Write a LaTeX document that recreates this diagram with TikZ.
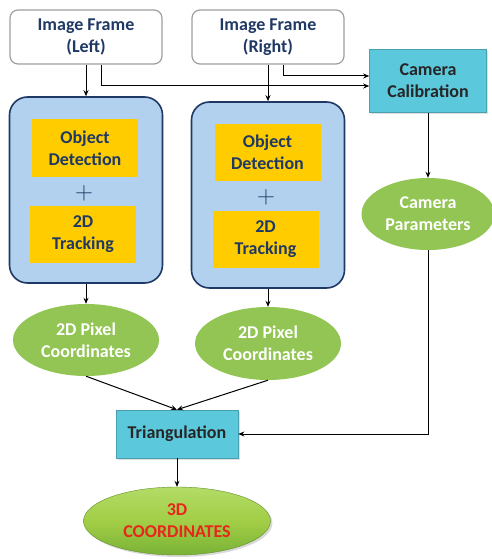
\documentclass[tikz,border=0pt]{standalone}
\usepackage{fontspec}
\setmainfont{Carlito}
\usepackage{tikz}
\usetikzlibrary{arrows.meta,positioning,calc,shapes.geometric,shadows}
\definecolor{navy}{HTML}{1F3864}
\definecolor{panel}{HTML}{B1D1EE}
\definecolor{gold}{HTML}{FFCC00}
\definecolor{teal}{HTML}{5CC8DC}
\definecolor{leaf}{HTML}{92C553}
\definecolor{leaftop}{HTML}{B2DC66}
\definecolor{leafrim}{HTML}{7AB236}
\definecolor{alert}{HTML}{E8261C}
\begin{document}
\begin{tikzpicture}[x=1pt,y=-1pt,>={Stealth[length=6pt,width=5pt]},
  font=\fontsize{18}{22}\selectfont\bfseries,
  frame/.style={draw=gray!75,line width=1.2pt,rounded corners=8pt,fill=white,
    minimum width=152pt,minimum height=54pt,align=center,text=navy},
  panel/.style={draw=navy,line width=1.6pt,rounded corners=18pt,fill=panel,
    minimum width=153pt,minimum height=186pt},
  task/.style={fill=gold,minimum width=106pt,minimum height=57pt,align=center,text=navy,inner sep=0pt},
  plus/.style={font=\fontsize{28}{28}\selectfont\mdseries,text=navy,inner sep=0pt},
  proc/.style={draw=teal!80!black,line width=0.6pt,fill=teal,align=center,text=black!85,
    drop shadow={opacity=0.25,shadow xshift=1.5pt,shadow yshift=-1.5pt}},
  blob/.style={ellipse,fill=leaf,align=center,text=white,inner sep=0pt},
  link/.style={->,line width=1pt}]
  \useasboundingbox (0,0) rectangle (492,559);
  % inputs
  \node[frame] (fl) at (86,37) {Image Frame\\(Left)};
  \node[frame] (fr) at (268,37) {Image Frame\\(Right)};
  \node[proc,minimum width=117pt,minimum height=63pt] (cal) at (428,81) {Camera\\Calibration};
  % per-camera processing
  \node[panel] (pl) at (86,190) {};
  \node[panel] (pr) at (268,195) {};
  \node[task] (odl) at (85,148) {Object\\Detection};
  \node[plus] (sl) at (84,193) {$+$};
  \node[task] (trl) at (83,234.5) {2D\\Tracking};
  \node[task] (odr) at (267.5,152.5) {Object\\Detection};
  \node[plus] (sr) at (266,197) {$+$};
  \node[task] (trr) at (265.5,239) {2D\\Tracking};
  % outputs
  \node[blob,minimum width=146pt,minimum height=72pt] (pxl) at (86,340) {2D Pixel\\Coordinates};
  \node[blob,minimum width=146pt,minimum height=73pt] (pxr) at (268,343.5) {2D Pixel\\Coordinates};
  \node[blob,minimum width=133pt,minimum height=72pt] (par) at (428,214) {Camera\\Parameters};
  \node[proc,minimum width=122pt,minimum height=48pt] (tri) at (177,434) {Triangulation};
  \node[ellipse,minimum width=187pt,minimum height=68pt,align=center,text=alert,
    top color=leaftop,bottom color=leafrim,middle color=leaf!85!yellow,draw=leafrim!80!black,line width=0.4pt,
    drop shadow={opacity=0.3,shadow xshift=2pt,shadow yshift=-2pt}] (out) at (177,521) {3D\\COORDINATES};
  % connectors
  \draw[link] (fl) -- (pl);
  \draw[link] (fr) -- (pr);
  \draw[link] ($(fl.south)+(15,0)$) |- ($(cal.west)+(0,5)$);
  \draw[link] ($(fr.south)+(15,0)$) |- ($(cal.west)+(0,-5)$);
  \draw[link] (cal) -- (par);
  \draw[link] (pl) -- (pxl);
  \draw[link] (pr) -- (pxr);
  \draw[link] (pxl.south) -- (tri.north);
  \draw[link] (pxr.south) -- (tri.north);
  \draw[link] (par.south) |- (tri.east);
  \draw[link] (tri) -- (out);
\end{tikzpicture}
\end{document}
